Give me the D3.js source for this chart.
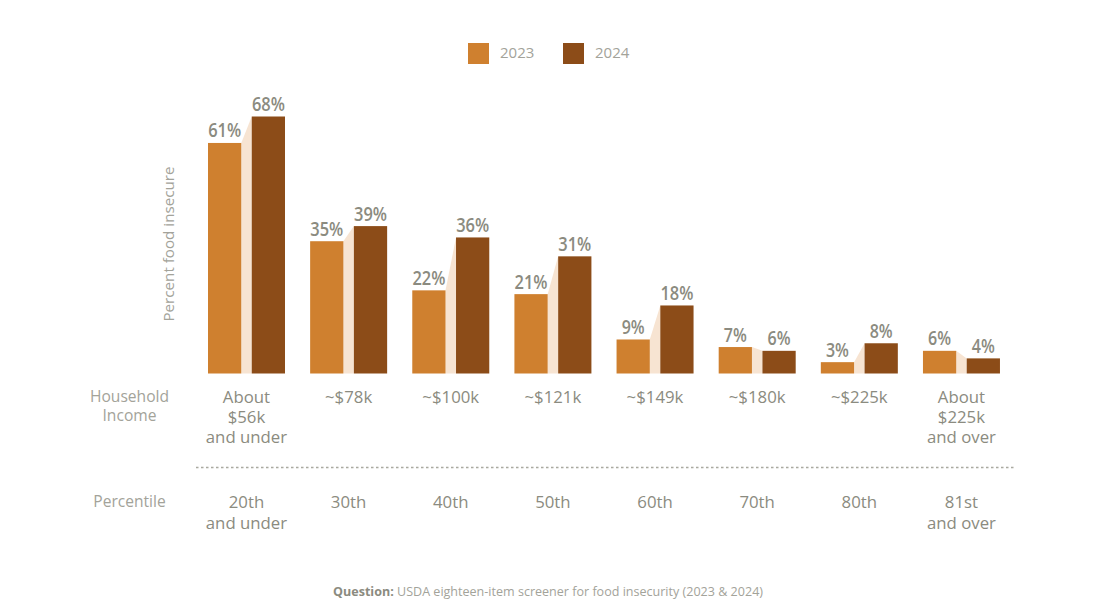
<!DOCTYPE html>
<html>
<head>
<meta charset="utf-8">
<script src="https://cdn.jsdelivr.net/npm/d3@7"></script>
<style>
  html, body { margin: 0; padding: 0; background: #fff; }
  svg { display: block; }
  text { font-family: 'Open Sans', sans-serif; }
</style>
</head>
<body>
<script>
const categories = ['20th', '30th', '40th', '50th', '60th', '70th', '80th', '81st'];
const years = ['2023', '2024'];
const values2023 = [61, 35, 22, 21, 9, 7, 3, 6];
const values2024 = [68, 39, 36, 31, 18, 6, 8, 4];
const incomeLabels = [['About', '$56k', 'and under'], ['~$78k'], ['~$100k'], ['~$121k'], ['~$149k'], ['~$180k'], ['~$225k'], ['About', '$225k', 'and over']];
const percentileLabels = [['20th', 'and under'], ['30th'], ['40th'], ['50th'], ['60th'], ['70th'], ['80th'], ['81st', 'and over']];

const width = 1095, height = 600;
const baseline = 373.5;
const colors = { 2023: '#cf802f', 2024: '#8c4c18' };
const grey = '#8b8b80';
const lightGrey = '#a3a39a';

const svg = d3.select('body').append('svg').attr('width', width).attr('height', height);

const yScale = d3.scaleLinear().domain([0, 68]).range([baseline, 116.5]);
const xScale = d3.scaleBand().domain(categories).range([195.4, 1012.5]);
const xInner = d3.scaleBand().domain(years).range([12.6, 89.6]).paddingInner(0.24).paddingOuter(0);

// peach wedge between the two bars of each group
svg.append('g')
  .selectAll('path')
  .data(categories)
  .join('path')
  .attr('fill', '#f7e4d2')
  .attr('d', (d, i) => {
    const x0 = xScale(d) + xInner('2023') + xInner.bandwidth();
    const x1 = xScale(d) + xInner('2024');
    return d3.line()([[x0, yScale(values2023[i])], [x1, yScale(values2024[i])], [x1, baseline], [x0, baseline]]);
  });

// bars + value labels
years.forEach((year, k) => {
  const vals = k === 0 ? values2023 : values2024;
  const g = svg.append('g');
  g.selectAll('rect')
    .data(categories)
    .join('rect')
    .attr('x', d => xScale(d) + xInner(year))
    .attr('y', (d, i) => yScale(vals[i]))
    .attr('width', xInner.bandwidth())
    .attr('height', (d, i) => baseline - yScale(vals[i]))
    .attr('fill', colors[year]);
  g.selectAll('text')
    .data(categories)
    .join('text')
    .text((d, i) => vals[i] + '%')
    .attr('x', d => xScale(d) + xInner(year) + xInner.bandwidth() / 2)
    .attr('y', (d, i) => yScale(vals[i]) - 5.5)
    .attr('text-anchor', 'middle')
    .attr('font-size', 19)
    .attr('font-weight', 600)
    .attr('fill', grey)
    // the labels are set in a condensed face, squeeze them to width
    .attr('textLength', (d, i) => vals[i] < 10 ? 23 : 33)
    .attr('lengthAdjust', 'spacingAndGlyphs');
});

// legend
const legend = svg.append('g');
years.forEach((year, k) => {
  const lx = 468 + k * 95;
  legend.append('rect').attr('x', lx).attr('y', 43).attr('width', 21).attr('height', 21).attr('fill', colors[year]);
  legend.append('text').text(year).attr('x', lx + 32).attr('y', 58)
    .attr('font-size', 15).attr('fill', lightGrey);
});

// y title
svg.append('text')
  .text('Percent food insecure')
  .attr('transform', 'translate(174,244) rotate(-90)')
  .attr('text-anchor', 'middle')
  .attr('font-size', 15.2)
  .attr('fill', lightGrey);

// label rows under the bars
function labelRow(rows, y0, lineH) {
  const g = svg.append('g');
  g.selectAll('text')
    .data(categories)
    .join('text')
    .attr('text-anchor', 'middle')
    .attr('font-size', 16.8)
    .attr('fill', grey)
    .each(function(d, i) {
      d3.select(this).selectAll('tspan')
        .data(rows[i])
        .join('tspan')
        .attr('x', xScale(d) + xScale.bandwidth() / 2)
        .attr('y', (t, j) => y0 + j * lineH)
        .text(t => t);
    });
}
labelRow(incomeLabels, 402.5, 20);
labelRow(percentileLabels, 507.5, 21);

// row headers
const headers = [['Household', 402], ['Income', 421], ['Percentile', 507]];
svg.append('g')
  .selectAll('text')
  .data(headers)
  .join('text')
  .text(d => d[0])
  .attr('x', 129.5)
  .attr('y', d => d[1])
  .attr('text-anchor', 'middle')
  .attr('font-size', 15.6)
  .attr('fill', lightGrey);

// dotted divider
svg.append('line')
  .attr('x1', 196).attr('x2', 1014).attr('y1', 467.5).attr('y2', 467.5)
  .attr('stroke', '#a9a9a0').attr('stroke-width', 1.5).attr('stroke-dasharray', '2.5,2.5');

// footer
const foot = svg.append('text').attr('x', 333).attr('y', 596).attr('font-size', 12.55).attr('fill', lightGrey);
foot.append('tspan').text('Question:').attr('font-weight', 700).attr('fill', grey);
foot.append('tspan').text(' USDA eighteen-item screener for food insecurity (2023 & 2024)');
</script>
</body>
</html>
